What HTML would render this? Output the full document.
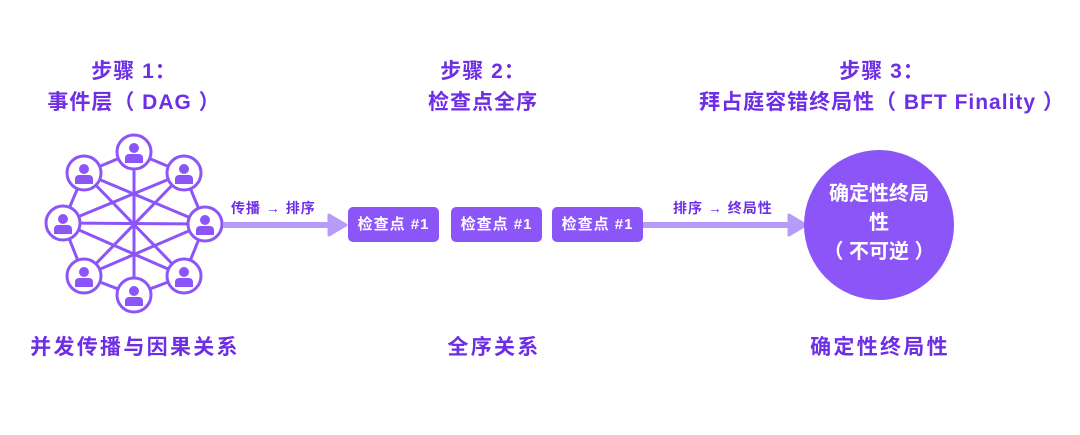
<!DOCTYPE html>
<html><head><meta charset="utf-8"><style>
body{margin:0;width:1080px;height:435px;background:#fff;position:relative;overflow:hidden;font-family:"Liberation Sans","Noto Sans CJK SC",sans-serif;}
.t{position:absolute;color:#6d2ee6;font-weight:bold;font-size:21px;letter-spacing:1px;text-align:center;line-height:31px;white-space:nowrap;transform:translateX(-50%);}
.bl{letter-spacing:2.3px;font-size:21px;}
.b{position:absolute;background:#8b55f7;color:#fff;font-weight:bold;font-size:15px;letter-spacing:1px;border-radius:5px;width:91px;height:35px;line-height:35px;text-align:center;top:207px;}
.l{position:absolute;color:#6d2ee6;font-weight:bold;font-size:14px;letter-spacing:1px;white-space:nowrap;}
</style></head><body>
<div class="t" style="left:134px;top:56px">步骤 1：<br>事件层（ DAG ）</div>
<div class="t" style="left:483px;top:56px">步骤 2：<br>检查点全序</div>
<div class="t" style="left:882px;top:56px">步骤 3：<br>拜占庭容错终局性（ BFT Finality ）</div>
<div class="t bl" style="left:135px;top:332px">并发传播与因果关系</div>
<div class="t bl" style="left:494px;top:332px">全序关系</div>
<div class="t bl" style="left:880px;top:332px">确定性终局性</div>
<svg width="1080" height="435" style="position:absolute;left:0;top:0">
<defs><g id="u"><circle r="17" fill="#fff" stroke="#8b55f7" stroke-width="3"/><circle cy="-4" r="5" fill="#8b55f7"/><path d="M-9 11 v-5 a4 4 0 0 1 4-4 h10 a4 4 0 0 1 4 4 v5z" fill="#8b55f7"/></g></defs>
<g stroke="#8b55f7" stroke-width="3">
<polygon points="134,152 184,173 205,224 184,276 134,295 84,276 63,223 84,173" fill="none"/>
<line x1="134" y1="152" x2="134" y2="295"/><line x1="63" y1="223" x2="205" y2="224"/>
<line x1="84" y1="173" x2="184" y2="276"/><line x1="184" y1="173" x2="84" y2="276"/>
<line x1="63" y1="223" x2="184" y2="173"/><line x1="63" y1="223" x2="184" y2="276"/>
<line x1="205" y1="224" x2="84" y2="173"/><line x1="205" y1="224" x2="84" y2="276"/>
</g>
<use href="#u" x="134" y="152"/><use href="#u" x="184" y="173"/><use href="#u" x="205" y="224"/><use href="#u" x="184" y="276"/><use href="#u" x="134" y="295"/><use href="#u" x="84" y="276"/><use href="#u" x="63" y="223"/><use href="#u" x="84" y="173"/>
<line x1="223" y1="225" x2="332" y2="225" stroke="#b79bf9" stroke-width="6"/>
<polygon points="329,215 346,225 329,235" fill="#b79bf9" stroke="#b79bf9" stroke-width="3" stroke-linejoin="round"/>
<line x1="642" y1="225" x2="792" y2="225" stroke="#b79bf9" stroke-width="6"/>
<polygon points="789,215 806,225 789,235" fill="#b79bf9" stroke="#b79bf9" stroke-width="3" stroke-linejoin="round"/>
<circle cx="879" cy="225" r="75" fill="#8b55f7"/>
</svg>
<div class="l" style="left:231px;top:198px">传播 → 排序</div>
<div class="l" style="left:673px;top:198px">排序 → 终局性</div>
<div class="b" style="left:348px">检查点 #1</div>
<div class="b" style="left:451px">检查点 #1</div>
<div class="b" style="left:552px">检查点 #1</div>
<div style="position:absolute;left:804px;top:180px;width:150px;text-align:center;color:#fff;font-weight:bold;font-size:20px;line-height:29px">确定性终局<br>性<br>（ 不可逆 ）</div>
</body></html>
